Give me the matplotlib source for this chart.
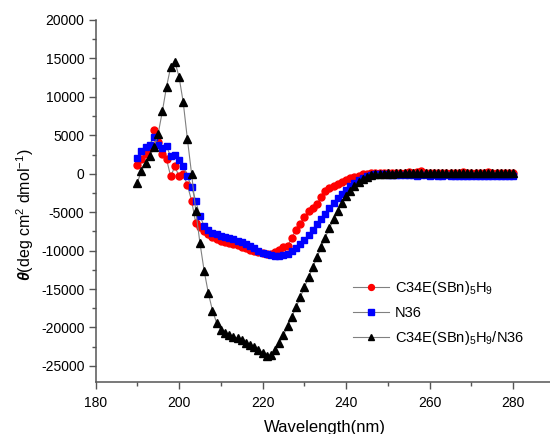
import numpy as np
import matplotlib
matplotlib.use("Agg")
import matplotlib.pyplot as plt

plt.rcParams['font.family'] = ['Liberation Sans', 'DejaVu Sans']
plt.rcParams['axes.unicode_minus'] = False
plt.rcParams['mathtext.fontset'] = 'custom'
plt.rcParams['mathtext.rm'] = 'Liberation Sans'
plt.rcParams['mathtext.it'] = 'Liberation Sans:italic:bold'
plt.rcParams['mathtext.bf'] = 'Liberation Sans:bold'

wavelength = list(range(190, 281))

red_vals = [1150, 1950, 2600, 3300, 5700, 4100, 2600, 1900, -350, 950,
            -350, 0, -1500, -3500, -6400, -6900, -7500, -7900, -8200, -8500,
            -8700, -8900, -9000, -9200, -9300, -9500, -9700, -9900, -10100, -10200,
            -10300, -10400, -10400, -10200, -9900, -9600, -9400, -8300, -7300, -6500,
            -5600, -4900, -4400, -4000, -3000, -2300, -1900, -1600, -1350, -1100,
            -850, -600, -400, -250, -100, 0, 50, 50, 100, 100,
            150, 100, 150, 150, 150, 200, 150, 200, 300, 150,
            150, 100, 150, 150, 100, 150, 100, 150, 200, 150,
            150, 100, 150, 150, 200, 150, 150, 100, 150, 150,
            150]

blue_vals = [2000, 2900, 3450, 3800, 4800, 3800, 3350, 3550, 2250, 2450,
             1800, 1050, -350, -1700, -3550, -5500, -6800, -7300, -7700, -7900,
             -8100, -8250, -8400, -8550, -8700, -8900, -9100, -9400, -9700, -10000,
             -10300, -10500, -10600, -10700, -10700, -10600, -10400, -10100, -9700, -9200,
             -8600, -8000, -7300, -6600, -5900, -5200, -4500, -3800, -3200, -2600,
             -2100, -1600, -1200, -850, -550, -300, -150, -50, -50, -100,
             -150, -150, -200, -200, -150, -200, -200, -250, -200, -200,
             -250, -200, -250, -250, -200, -250, -300, -250, -250, -300,
             -250, -300, -300, -250, -300, -300, -300, -250, -300, -300,
             -350]

black_vals = [-1200, 400, 1400, 2250, 3500, 5200, 8100, 11300, 13900, 14600,
              12600, 9300, 4500, 0, -4800, -9000, -12600, -15500, -17800, -19400,
              -20300, -20700, -21000, -21200, -21400, -21700, -22000, -22300, -22600, -22900,
              -23300, -23700, -23600, -22900, -22000, -21000, -19800, -18600, -17400, -16100,
              -14800, -13500, -12200, -10900, -9600, -8300, -7100, -5900, -4800, -3800,
              -2900, -2200, -1600, -1100, -700, -400, -200, -50, 0, 0,
              50, 0, 50, 50, 50, 50, 100, 50, 100, 50,
              100, 50, 100, 100, 50, 100, 100, 100, 50, 100,
              100, 100, 100, 50, 100, 100, 100, 100, 100, 100,
              100]

labels = [r'C34E(SBn)$_5$H$_9$', 'N36', r'C34E(SBn)$_5$H$_9$/N36']
x_ticks = [180, 200, 220, 240, 260, 280]
y_ticks = [-25000, -20000, -15000, -10000, -5000, 0, 5000, 10000, 15000, 20000]

fig = plt.figure(figsize=(5.5, 4.34), dpi=100)
ax = fig.add_axes([95.5 / 550, 1 - 382 / 434, (555 - 95.5) / 550, (382 - 20) / 434])

line_col = '#808080'
ax.plot(wavelength, red_vals, color=line_col, lw=0.8, marker='o', ms=5,
        mfc='#ff0000', mec='#ff0000', label=labels[0])
ax.plot(wavelength, blue_vals, color=line_col, lw=0.8, marker='s', ms=4.7,
        mfc='#0000ff', mec='#0000ff', label=labels[1])
ax.plot(wavelength, black_vals, color=line_col, lw=0.8, marker='^', ms=5.8,
        mfc='black', mec='black', label=labels[2])

ax.set_xlim(180, 290)
ax.set_ylim(-27100, 20000)
ax.set_xticks(x_ticks)
ax.set_yticks(y_ticks)
ax.set_xticks(np.arange(190, 290, 20), minor=True)
ax.set_yticks(np.arange(-22500, 20000, 5000), minor=True)

for s in ['top', 'right']:
    ax.spines[s].set_visible(False)
for s in ['left', 'bottom']:
    ax.spines[s].set_color('#555555')
    ax.spines[s].set_linewidth(1.1)
ax.tick_params(which='major', direction='out', length=5, width=1, color='#555555',
               labelsize=10, pad=3)
ax.tick_params(axis='x', which='major', pad=5)
ax.tick_params(which='minor', direction='out', length=3, width=1, color='#555555')

ax.set_xlabel('Wavelength(nm)', fontsize=12, labelpad=7)
fig.text(25 / 550, 1 - 215 / 434, r'$\theta$(deg cm$^2$ dmol$^{-1}$)', fontsize=11.5,
         rotation=90, ha='center', va='center')

leg = ax.legend(loc='upper left', bbox_to_anchor=(353 / 550, 1 - 279 / 434),
                bbox_transform=fig.transFigure,
                frameon=False, fontsize=10.5, handlelength=2.5, handletextpad=0.35,
                labelspacing=0.62, borderaxespad=0, borderpad=0, markerscale=0.85)

fig.savefig('out.png', dpi=100)
